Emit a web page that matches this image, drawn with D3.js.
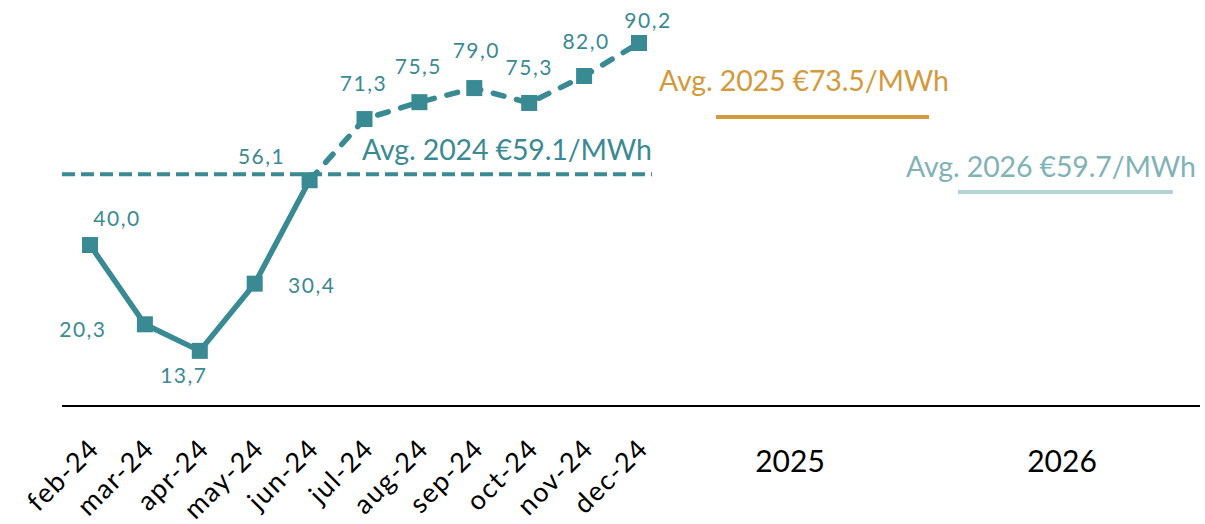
<!DOCTYPE html>
<meta charset="utf-8">
<html>
<style>
body { margin: 0; background: #fff; }
svg { font-family: Lato, "Open Sans", sans-serif; }
</style>
<body>
<script src="https://cdnjs.cloudflare.com/ajax/libs/d3/7.8.5/d3.min.js"></script>
<script>
	// monthly prices 2024
	var months = ["feb-24","mar-24","apr-24","may-24","jun-24","jul-24","aug-24","sep-24","oct-24","nov-24","dec-24"];
	var prices = [40.0, 20.3, 13.7, 30.4, 56.1, 71.3, 75.5, 79.0, 75.3, 82.0, 90.2];
	var years = ["2025", "2026"];

	// average lines (level) and their labels
	var avgNames = ["Avg. 2024 €59.1/MWh", "Avg. 2025 €73.5/MWh", "Avg. 2026 €59.7/MWh"];
	var avgLevels = [57.6, 71.8, 53.2];

	var width = 1205;
	var height = 524;
	var teal = "#3A8A93";

	var svg = d3.select("body")
				.append("svg")
				.attr("width", width)
				.attr("height", height);

	var x = d3.scalePoint().domain(months).range([90, 639]);
	var xYear = d3.scalePoint().domain(years).range([790, 1062]);
	var y = d3.scaleLinear().domain([0, 90.2]).range([406, 43]);

	// baseline
	svg.append("line")
		.attr("x1", 62).attr("x2", 1200)
		.attr("y1", y(0)).attr("y2", y(0))
		.style("stroke", "#000")
		.style("stroke-width", 2);

	// month labels, rotated
	svg.append("g")
		.selectAll("text")
		.data(months)
		.enter()
		.append("text")
		.attr("transform", d => "translate(" + (x(d) + 11) + ",450) rotate(-45)")
		.attr("text-anchor", "end")
		.style("font-size", "27px")
		.style("letter-spacing", "1.5px")
		.style("fill", "#000")
		.text(d => d);

	svg.append("g")
		.selectAll("text")
		.data(years)
		.enter()
		.append("text")
		.attr("x", d => xYear(d))
		.attr("y", 472)
		.attr("text-anchor", "middle")
		.style("font-size", "30px")
		.style("fill", "#000")
		.text(d => d);

	// average lines
	var avgStyle = [
		{x1: 62, x2: 652, color: teal, dash: "13,6", lx: 362, ly: 160, text: teal},
		{x1: 716, x2: 929, color: "#D4993A", dash: null, lx: 659, ly: 91, text: "#D4993A"},
		{x1: 958, x2: 1173, color: "#B3D3D4", dash: null, lx: 906, ly: 177, text: "#80B3B6"}
	];

	avgLevels.forEach(function(v, i) {
		var s = avgStyle[i];
		svg.append("line")
			.attr("x1", s.x1).attr("x2", s.x2)
			.attr("y1", y(v)).attr("y2", y(v))
			.style("stroke", s.color)
			.style("stroke-width", 4)
			.style("stroke-dasharray", s.dash);
		svg.append("text")
			.attr("x", s.lx)
			.attr("y", s.ly)
			.attr("textLength", 290)
			.style("font-size", "28.5px")
			.style("fill", s.text)
			.text(avgNames[i]);
	});

	var pts = months.map((m, i) => ({m: m, v: prices[i]}));
	var line = d3.line().x(d => x(d.m)).y(d => y(d.v));

	// solid to jun, dashed after
	svg.append("path")
		.datum(pts.slice(0, 5))
		.attr("d", line)
		.style("fill", "none")
		.style("stroke", teal)
		.style("stroke-width", 5.5);

	svg.append("path")
		.datum(pts.slice(4))
		.attr("d", line)
		.style("fill", "none")
		.style("stroke", teal)
		.style("stroke-width", 5.5)
		.style("stroke-dasharray", "11,13")
		.style("stroke-linecap", "round");

	svg.append("g")
		.selectAll("rect")
		.data(pts)
		.enter()
		.append("rect")
		.attr("x", d => x(d.m) - 8)
		.attr("y", d => y(d.v) - 8)
		.attr("width", 16)
		.attr("height", 16)
		.style("fill", teal);

	// label offsets relative to the point
	var labelOffset = [[27,-19],[-62,13],[-16,32],[57,9],[-48,-16],[-1,-28],[-1,-28],[2,-30],[0,-28],[2,-27],[9,-15]];

	svg.append("g")
		.selectAll("text")
		.data(pts)
		.enter()
		.append("text")
		.attr("x", (d, i) => x(d.m) + labelOffset[i][0])
		.attr("y", (d, i) => y(d.v) + labelOffset[i][1])
		.attr("text-anchor", "middle")
		.style("font-size", "21px")
		.style("letter-spacing", "1.5px")
		.style("fill", teal)
		.text(d => d3.format(".1f")(d.v).replace(".", ","));
</script>
</body>
</html>
